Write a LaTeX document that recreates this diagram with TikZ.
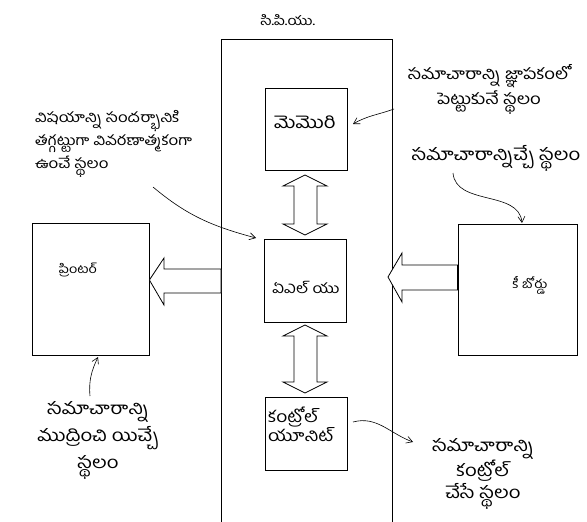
\documentclass[tikz,border=0pt]{standalone}
\usepackage{fontspec}
\newfontfamily\tel[Script=Telugu,FakeStretch=1.2]{Hind Guntur}
\usetikzlibrary{arrows.meta}
\newcommand{\tsz}[2]{\tel\fontsize{#1}{#2}\selectfont}
\begin{document}
\begin{tikzpicture}[x=1pt,y=-1pt,
  box/.style={draw,line width=0.8pt,inner sep=0pt},
  txt/.style={inner sep=0pt,font=\tsz{13}{23}},
  blk/.style={draw,line width=0.8pt,fill=white,line join=miter},
  con/.style={line width=0.6pt,-{Straight Barb[length=6pt,width=7pt]}}]
\useasboundingbox (0,0) rectangle (587,522);
% CPU frame
\node[txt] (cpulbl) at (288,20) {సి.పి.యు.};
\draw[line width=0.6pt] (221,522) -- (221,39) -- (392,39) -- (392,522);
% boxes
\node[box,minimum width=82pt,minimum height=82pt] (mem) at (306,129) {};
\node[txt,font=\tsz{17}{20}] (memt) at (305,122) {మెమొరి};
\node[box,minimum width=82pt,minimum height=83pt] (alu) at (305,280.5) {};
\node[txt,font=\tsz{14}{20}] (alut) at (306,287) {ఏఎల్ యు};
\node[box,minimum width=82pt,minimum height=73pt] (ctrl) at (306,433.5) {};
\node[txt,align=left,anchor=west,font=\tsz{16}{19}] (ctrlt) at (268,424) {కంట్రోల్\\యూనిట్};
\node[box,minimum width=117pt,minimum height=132pt] (prn) at (90.5,289) {};
\node[txt,font=\tsz{12}{20}] (prnt) at (78,270) {ప్రింటర్};
\node[box,minimum width=119pt,minimum height=131pt] (kbd) at (517.5,289.5) {};
\node[txt,font=\tsz{12}{20}] (kbdt) at (530,285) {కీ బోర్డు};
% block arrows
\draw[blk] (305,175) -- (327,186) -- (317,186) -- (317,224) -- (327,224) -- (305,235)
  -- (283,224) -- (294,224) -- (294,186) -- (283,186) -- cycle;
\draw[blk] (305,325) -- (327,336) -- (317,336) -- (317,382) -- (327,382) -- (305,393)
  -- (283,382) -- (294,382) -- (294,336) -- (283,336) -- cycle;
\draw[blk] (prn.east |- 0,280) -- (164,258) -- (164,269) -- (221,269) -- (221,293) -- (164,293) -- (164,305) -- cycle;
\draw[blk] (388,277) -- (402,253) -- (402,265) -- (kbd.west |- 0,265) -- (kbd.west |- 0,290) -- (402,290) -- (402,302) -- cycle;
% labels
\node[txt,align=center,font=\tsz{15.5}{25}] (meml) at (489,89) {సమాచారాన్ని జ్ఞాపకంలో\\పెట్టుకునే స్థలం};
\node[txt,align=left,anchor=north west,font=\tsz{14}{23}] (alul) at (35,110) {విషయాన్ని సందర్భానికి\\తగ్గట్టుగా వివరణాత్మకంగా\\ఉంచే స్థలం};
\node[txt,font=\tsz{17}{20}] (kbdl) at (496,158) {సమాచారాన్నిచ్చే స్థలం};
\node[txt,align=center,font=\tsz{17}{27}] (prnl) at (98,440) {సమాచారాన్ని\\ముద్రించి యిచ్చే\\స్థలం};
\node[txt,align=center,font=\tsz{17}{22}] (ctrll) at (483,474) {సమాచారాన్ని\\కంట్రోల్\\చేసే స్థలం};
% connectors
\coordinate (m1) at (394,109);
\coordinate (m2) at (353,124);
\draw[con] (m1) to[out=200,in=30] (m2);
\coordinate (a1) at (153,187);
\coordinate (a2) at (256,238);
\draw[con] (a1) to[out=-40,in=165] (a2);
\coordinate (k1) at (453,173);
\coordinate (k2) at (522,223);
\draw[con] (k1) to[out=-85,in=95] (k2);
\coordinate (p1) at (90,396);
\coordinate (p2) at (98,357);
\draw[con] (p1) to[out=95,in=-115] (p2);
\coordinate (c1) at (353,422);
\coordinate (c2) at (413,442);
\draw[con] (c1) to[out=15,in=160] (c2);
\end{tikzpicture}
\end{document}
